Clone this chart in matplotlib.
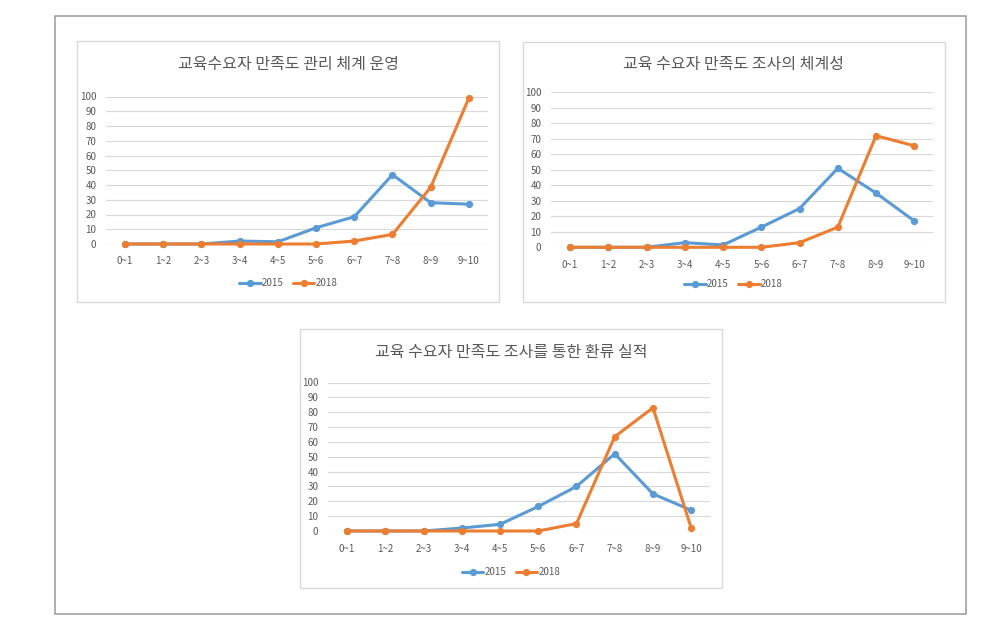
import matplotlib
matplotlib.use("Agg")
import matplotlib.pyplot as plt
from matplotlib.patches import Rectangle

plt.rcParams['font.family'] = ['Noto Sans CJK KR', 'DejaVu Sans']

categories = ["0~1", "1~2", "2~3", "3~4", "4~5", "5~6", "6~7", "7~8", "8~9", "9~10"]
series_names = ["2015", "2018"]
yticks = [0, 10, 20, 30, 40, 50, 60, 70, 80, 90, 100]

title1 = "교육수요자 만족도 관리 체계 운영"
c1_2015 = [0, 0, 0, 2, 1.5, 11, 18.5, 47, 28, 27]
c1_2018 = [0, 0, 0, 0, 0, 0, 2, 6.5, 38.5, 99]

title2 = "교육 수요자 만족도 조사의 체계성"
c2_2015 = [0, 0, 0, 3, 1.5, 13, 25, 51, 35, 17]
c2_2018 = [0, 0, 0, 0, 0, 0, 3, 13, 72, 65.5]

title3 = "교육 수요자 만족도 조사를 통한 환류 실적"
c3_2015 = [0, 0, 0, 2, 4.5, 16.5, 30, 52, 25, 14]
c3_2018 = [0, 0, 0, 0, 0, 0, 5, 63.5, 83, 2]

W, H = 1003, 623
fig = plt.figure(figsize=(W / 100, H / 100), dpi=100)

def fx(x):
    return x / W

def fy(y):
    return 1 - y / H

def rect_px(x0, y0, x1, y1, **kw):
    r = Rectangle((fx(x0), fy(y1)), (x1 - x0) / W, (y1 - y0) / H,
                  transform=fig.transFigure, **kw)
    fig.patches.append(r)

BLUE = "#5B9BD5"
ORANGE = "#ED7D31"
GRID = "#D9D9D9"
TXT = "#595959"

# outer frame
rect_px(55.5, 15.5, 966, 613.5, fill=False, edgecolor="#9a9a9a", lw=1.1, zorder=-2)

panels = [
    dict(box=(77, 41, 499.5, 301.5), plot=(106, 96.5, 488, 244), title=title1,
         ty=65, ly=283, d15=c1_2015, d18=c1_2018),
    dict(box=(522.5, 41.5, 944.5, 301.5), plot=(551, 92.3, 933.4, 247.3), title=title2,
         ty=64, ly=284, d15=c2_2015, d18=c2_2018),
    dict(box=(300, 329, 722, 588), plot=(328, 382.5, 710.3, 531), title=title3,
         ty=353, ly=572, d15=c3_2015, d18=c3_2018),
]

for p in panels:
    bx0, by0, bx1, by1 = p["box"]
    rect_px(bx0, by0, bx1, by1, facecolor="white", edgecolor=GRID, lw=1.0, zorder=-1)
    x0, y0, x1, y1 = p["plot"]
    ax = fig.add_axes([fx(x0), fy(y1), (x1 - x0) / W, (y1 - y0) / H])
    ax.set_facecolor("none")
    ax.set_xlim(-0.5, len(categories) - 0.5)
    ax.set_ylim(0, 100)
    ax.set_yticks(yticks)
    ax.set_xticks(range(len(categories)))
    ax.set_xticklabels(categories)
    for s in ax.spines.values():
        s.set_visible(False)
    ax.grid(axis="y", color=GRID, lw=0.8)
    ax.set_axisbelow(True)
    ax.tick_params(length=0, labelsize=7, labelcolor=TXT)
    ax.tick_params(axis="x", pad=9)
    ax.tick_params(axis="y", pad=7)
    xs = range(len(categories))
    l1, = ax.plot(xs, p["d15"], color=BLUE, lw=2.2, marker="o", ms=4.2, label=series_names[0],
                  solid_capstyle="round", zorder=3, clip_on=False)
    l2, = ax.plot(xs, p["d18"], color=ORANGE, lw=2.2, marker="o", ms=4.2, label=series_names[1],
                  solid_capstyle="round", zorder=4, clip_on=False)
    cx = (bx0 + bx1) / 2
    fig.text(fx(cx), fy(p["ty"]), p["title"], ha="center", va="center",
             fontsize=11.5, color=TXT)
    ax.legend(handles=[l1, l2], loc="center", bbox_to_anchor=(fx(cx), fy(p["ly"])),
              bbox_transform=fig.transFigure, ncol=2, frameon=False, fontsize=7,
              labelcolor=TXT, handlelength=2.2, handletextpad=0.1, columnspacing=1.0,
              borderpad=0)

fig.savefig("out.png", dpi=100, facecolor="white")
